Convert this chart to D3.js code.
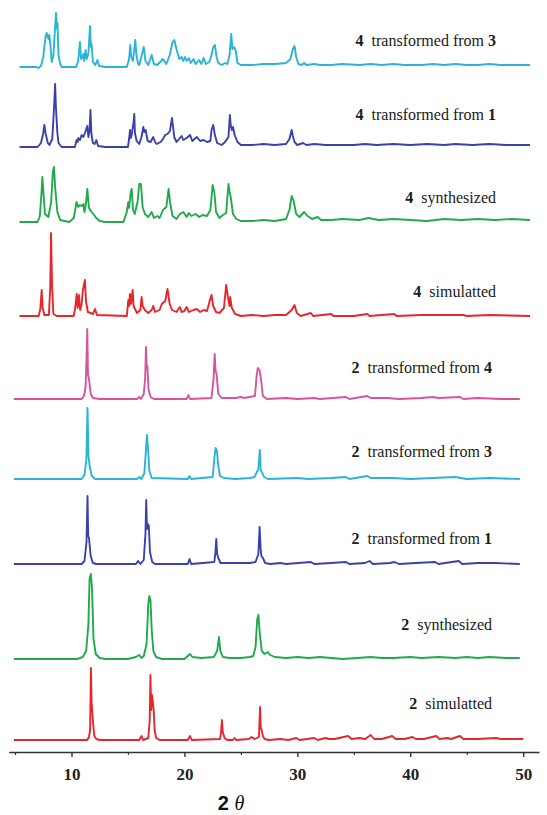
<!DOCTYPE html>
<html>
<head>
<meta charset="utf-8">
<script src="https://cdn.jsdelivr.net/npm/d3@7/dist/d3.min.js"></script>
<style>
  body { margin: 0; background: #fff; }
  svg { display: block; }
</style>
</head>
<body>
<svg id="chart" width="547" height="815"></svg>
<script>
// powder patterns, [2theta, intensity (a.u.)], top to bottom
var labels = [
  ["4", "transformed from", "3"],
  ["4", "transformed from", "1"],
  ["4", "synthesized", ""],
  ["4", "simulatted", ""],
  ["2", "transformed from", "4"],
  ["2", "transformed from", "3"],
  ["2", "transformed from", "1"],
  ["2", "synthesized", ""],
  ["2", "simulatted", ""]
];

// stacking offsets of each pattern (a.u.)
var offsets = [693, 613, 538, 444, 361, 281, 196, 101, 20];

var p4from3 = [[5.4,0],[6.9,0],[7.07,-1],[7.3,1],[7.5,10],[7.7,30],[7.8,34],[7.95,28],[8.04,32],[8.15,20],[8.25,5],[8.4,12],[8.55,40],[8.63,54],[8.72,38],[8.76,44],[8.85,12],[9.0,3],[9.13,0],[10.4,0],[10.6,6],[10.75,25],[10.85,8],[11.0,10],[11.05,13],[11.12,6],[11.25,17],[11.35,8],[11.5,14],[11.64,41],[11.72,20],[11.78,23],[11.9,5],[12.1,2],[12.3,7],[12.45,1],[13.0,0],[14.9,0],[15.1,8],[15.2,22],[15.3,10],[15.45,6],[15.65,27],[15.75,12],[15.9,3],[16.0,2],[16.4,20],[16.55,6],[16.8,2],[17.1,12],[17.3,3],[17.6,2],[18.1,8],[18.4,3],[18.7,12],[18.95,25],[19.1,27],[19.3,18],[19.55,8],[19.75,10],[19.9,6],[20.05,10],[20.2,6],[20.4,9],[20.55,4],[20.8,8],[21.0,3],[21.3,7],[21.5,3],[21.7,9],[21.9,3],[22.2,5],[22.4,12],[22.55,20],[22.7,22],[22.85,10],[23.0,4],[23.3,2],[23.6,4],[23.8,3],[24.0,12],[24.15,33],[24.25,18],[24.4,20],[24.55,16],[24.7,4],[25.0,2],[26.0,2],[27.0,3],[28.0,3],[29.0,4],[29.4,8],[29.6,18],[29.75,21],[29.9,10],[30.1,3],[30.4,2],[30.6,4],[30.8,2],[31.5,3],[32.0,2],[33.0,2],[34.0,3],[35.5,2],[36.5,3],[37.5,2],[38.5,3],[39.5,2],[41,2],[42,3],[43,2],[44,3],[45,2],[46,2],[47,3],[48,2],[49,2],[50.6,2]];

var p4from1 = [[5.4,0],[7.0,0],[7.3,4],[7.5,14],[7.6,22],[7.7,14],[7.9,4],[8.05,2],[8.3,8],[8.48,45],[8.55,63],[8.62,40],[8.68,28],[8.75,14],[8.85,4],[9.13,0],[10.3,0],[10.46,7],[10.55,5],[10.61,9],[10.75,7],[10.9,12],[11.05,10],[11.19,14],[11.4,21],[11.5,10],[11.6,16],[11.68,37],[11.74,18],[11.8,10],[11.9,4],[12.05,3],[12.2,7],[12.35,1],[13,0],[15.0,0],[15.1,8],[15.18,17],[15.25,9],[15.33,12],[15.5,25],[15.56,33],[15.62,14],[15.77,6],[16.0,3],[16.2,10],[16.36,20],[16.45,15],[16.57,17],[16.75,6],[17.0,5],[17.24,10],[17.4,5],[17.54,3],[17.9,5],[18.1,8],[18.3,12],[18.5,13],[18.72,16],[18.9,29],[19.0,20],[19.1,10],[19.3,5],[19.6,9],[19.75,11],[19.9,7],[20.2,9],[20.5,12],[20.7,6],[20.9,8],[21.1,10],[21.4,6],[21.7,7],[22.0,5],[22.3,6],[22.4,17],[22.55,22],[22.7,12],[22.9,4],[23.3,2],[23.6,5],[23.9,10],[24.03,32],[24.1,22],[24.2,17],[24.3,20],[24.45,12],[24.7,5],[25.0,2],[26,2],[27,3],[28,2],[29.0,3],[29.3,8],[29.5,17],[29.6,11],[29.75,5],[30.0,2],[30.5,4],[30.8,2],[31.5,3],[32.5,2],[33.5,2],[35,2],[36,3],[37,2],[38.5,3],[40,2],[41.5,3],[43,2],[44,3],[45.5,2],[47,3],[48.5,2],[50.6,2]];

var p4syn = [[5.4,0],[7.0,0],[7.2,6],[7.35,30],[7.42,45],[7.5,32],[7.65,8],[7.95,5],[8.2,20],[8.35,50],[8.45,55],[8.55,35],[8.75,10],[9.0,2],[9.8,0],[10.2,4],[10.45,20],[10.6,15],[10.75,17],[10.9,16],[11.05,18],[11.15,10],[11.3,20],[11.4,33],[11.55,14],[11.78,10],[12.0,7],[12.2,4],[12.5,1],[13,0],[14.6,0],[14.9,10],[15.03,20],[15.1,14],[15.25,30],[15.33,33],[15.45,12],[15.6,8],[15.85,20],[16.0,38],[16.15,38],[16.3,15],[16.5,8],[16.8,5],[17.1,10],[17.3,4],[17.6,6],[17.8,4],[18.1,12],[18.4,15],[18.6,33],[18.75,18],[18.95,6],[19.3,3],[19.6,8],[19.9,10],[20.2,5],[20.4,9],[20.6,6],[21.0,8],[21.3,5],[21.6,7],[22.0,6],[22.3,12],[22.5,37],[22.65,30],[22.8,10],[23.1,4],[23.4,7],[23.7,9],[23.9,38],[24.0,30],[24.1,25],[24.3,8],[24.6,3],[25.0,1],[26,1],[27,2],[28,1],[29.0,3],[29.3,12],[29.5,26],[29.65,22],[29.9,8],[30.2,5],[30.6,10],[30.9,6],[31.3,3],[31.8,5],[32.1,2],[33,2],[34,3],[35.5,2],[36.3,4],[37.2,2],[38.5,3],[40,2],[41.5,1],[43,3],[44.5,2],[46,3],[47.5,2],[49,3],[50.6,2]];

var p4sim = [[5.4,0],[7.1,0],[7.25,8],[7.36,26],[7.45,8],[7.6,1],[8.0,1],[8.12,30],[8.19,83],[8.28,30],[8.4,2],[8.7,0],[10.2,0],[10.35,10],[10.46,22],[10.55,8],[10.66,21],[10.77,6],[10.9,12],[10.99,24],[11.08,30],[11.19,36],[11.28,15],[11.45,4],[11.9,2],[12.08,7],[12.25,1],[14.9,0],[15.03,16],[15.1,10],[15.18,22],[15.27,12],[15.42,26],[15.5,10],[15.8,3],[16.1,6],[16.21,19],[16.3,10],[16.5,6],[16.8,3],[17.1,6],[17.24,10],[17.4,4],[17.8,6],[18.0,12],[18.3,15],[18.5,27],[18.7,12],[18.9,6],[19.3,4],[19.6,9],[19.75,4],[20.0,5],[20.2,9],[20.4,4],[20.8,6],[21.1,7],[21.4,4],[21.7,6],[22.0,5],[22.26,16],[22.4,21],[22.55,10],[22.8,4],[23.1,3],[23.5,8],[23.7,31],[23.85,19],[24.0,10],[24.05,19],[24.2,8],[24.5,2],[25,0],[26,1],[27,0],[28,1],[29.0,1],[29.5,6],[29.75,11],[29.95,3],[30.3,0],[31.2,3],[31.4,0],[33.0,2],[33.2,0],[35,0],[36.2,2],[36.4,0],[38.6,2],[38.8,0],[41,1],[44.7,1],[45,0],[47,1],[50.6,0]];

var p2from4 = [[4.9,0],[10.9,0],[11.1,3],[11.25,12],[11.33,40],[11.4,70],[11.46,24],[11.55,20],[11.7,5],[11.9,1],[12.5,0],[15.8,0],[16.0,2],[16.15,0],[16.4,5],[16.52,20],[16.6,52],[16.66,30],[16.72,33],[16.82,10],[17.0,2],[17.3,0],[20.2,0],[20.35,4],[20.5,0],[22.4,1],[22.58,20],[22.68,45],[22.76,28],[22.85,25],[23.0,5],[23.3,1],[24.5,1],[25.0,2],[25.3,1],[26.25,3],[26.4,24],[26.5,31],[26.65,29],[26.78,20],[26.95,3],[27.3,0],[29,1],[30,0],[31.5,1],[32,0],[34.3,2],[34.6,0],[36.2,3],[36.5,1],[38,1],[39,0],[41,1],[42,2],[42.5,1],[44.4,2],[44.7,0],[46,1],[48,0],[49.7,0]];

var p2from3 = [[4.9,0],[10.9,0],[11.15,4],[11.32,20],[11.42,71],[11.5,23],[11.62,12],[11.8,3],[12.1,0],[15.8,0],[16.0,2],[16.2,0],[16.45,6],[16.6,30],[16.68,44],[16.78,30],[16.9,8],[17.1,1],[20.3,0],[20.45,3],[20.6,0],[22.5,2],[22.65,20],[22.76,31],[22.88,28],[22.98,15],[23.15,3],[23.5,1],[24.5,0],[25.8,1],[26.2,2],[26.55,10],[26.68,29],[26.76,9],[26.86,7],[27.05,2],[27.4,0],[30,1],[31,0],[33,1],[34.3,2],[34.6,0],[36.2,3],[36.5,1],[38.5,1],[40,0],[42,1],[44,2],[45,0],[47,1],[49.7,0]];

var p2from1 = [[4.9,0],[10.9,0],[11.15,3],[11.33,22],[11.42,68],[11.48,28],[11.55,26],[11.7,8],[11.9,1],[12.2,0],[15.7,0],[15.9,3],[16.1,0],[16.4,4],[16.55,30],[16.62,64],[16.68,35],[16.75,40],[16.85,38],[16.95,12],[17.15,2],[17.4,0],[20.3,0],[20.45,5],[20.6,0],[22.65,2],[22.75,12],[22.82,25],[22.9,10],[23.0,6],[23.2,1],[24.2,1],[25.3,1],[25.8,1],[26.3,2],[26.55,10],[26.66,37],[26.75,15],[26.82,8],[26.95,6],[27.15,1],[27.6,0],[28.5,1],[29,0],[31.2,2],[31.5,0],[33,1],[34.3,2],[34.6,0],[36.0,1],[36.4,3],[36.7,0],[38.2,1],[38.6,2],[39,0],[40.5,1],[42.2,2],[42.5,0],[44.3,3],[44.6,0],[46,1],[47.5,1],[49.7,0]];

var p2syn = [[4.9,0],[9.0,0],[10.5,0],[11.0,2],[11.3,8],[11.5,35],[11.6,80],[11.72,85],[11.82,70],[11.95,20],[12.15,5],[12.5,1],[13,0],[15.0,0],[15.7,2],[16.0,4],[16.2,1],[16.4,3],[16.65,15],[16.8,55],[16.9,63],[17.0,58],[17.1,30],[17.25,8],[17.5,2],[18,0],[20.0,0],[20.3,3],[20.5,5],[20.7,2],[21.5,1],[22.6,2],[22.9,8],[23.06,22],[23.18,8],[23.4,2],[24,1],[25,1],[25.8,2],[26.1,3],[26.3,12],[26.45,40],[26.55,44],[26.68,25],[26.85,8],[27.1,5],[27.4,7],[27.6,4],[28,2],[29,1],[30,2],[31,1],[32,2],[33,1],[34,0],[35.3,1],[36.5,2],[37.5,1],[38.5,1],[40,2],[41,1],[42.5,2],[44,1],[45,2],[46,1],[47,2],[48.5,1],[49.7,1]];

var p2sim = [[4.9,0],[11.4,0],[11.55,3],[11.65,10],[11.72,72],[11.78,38],[11.84,28],[11.92,16],[12.02,4],[12.2,1],[12.5,0],[16.0,0],[16.2,4],[16.35,0],[16.8,2],[16.93,20],[16.99,65],[17.06,30],[17.13,45],[17.2,38],[17.28,30],[17.36,10],[17.5,2],[17.8,0],[20.3,0],[20.5,4],[20.65,0],[23.15,1],[23.25,8],[23.32,20],[23.4,8],[23.55,2],[23.8,0],[24.3,0],[24.45,2],[24.6,0],[25.7,1],[25.95,3],[26.2,1],[26.6,3],[26.7,33],[26.76,12],[26.84,10],[26.95,4],[27.1,1],[27.5,0],[28.5,1],[29.2,0],[29.9,2],[30.2,0],[31.5,2],[31.8,0],[32.5,2],[32.8,1],[33.3,1],[34.5,4],[34.8,1],[35.5,2],[36.0,1],[36.5,5],[36.8,1],[37.5,1],[38.4,4],[38.7,1],[39.5,1],[40.2,3],[40.5,1],[41.2,1],[42.3,4],[42.6,1],[43.3,2],[43.6,1],[44.4,4],[44.7,1],[46,1],[47.6,2],[48,1],[50.0,1]];

var patterns = [p4from3, p4from1, p4syn, p4sim, p2from4, p2from3, p2from1, p2syn, p2sim];

var xTicks = [10, 20, 30, 40, 50];
var xMinorTicks = [5, 15, 25, 35, 45];

var colors = ["#29b4d5", "#3b41ab", "#20aa4b", "#e6262b", "#d6539d", "#29b4d5", "#3b41ab", "#20aa4b", "#e6262b"];

var svg = d3.select("#chart");

var x = d3.scaleLinear().domain([4.44, 51.4]).range([8.7, 539]);
var y = d3.scaleLinear().domain([0, 760]).range([760, 0]);
var axisY = 752;

var line = d3.line()
    .x(function(d){ return x(d[0]); })
    .y(function(d){ return d[1]; });

svg.selectAll(".pattern")
    .data(patterns)
    .enter()
    .append("path")
    .attr("class", "pattern")
    .attr("fill", "none")
    .attr("stroke", function(d, i){ return colors[i]; })
    .attr("stroke-width", 1.9)
    .attr("stroke-linejoin", "round")
    .attr("d", function(d, i){
        var off = offsets[i];
        return line(d.map(function(p){ return [p[0], y(p[1] + off)]; }));
    });

// labels, right aligned above each pattern
var lab = svg.selectAll(".lab")
    .data(labels)
    .enter()
    .append("text")
    .attr("class", "lab")
    .attr("x", function(d, i){ return i < 4 ? 496 : 492; })
    .attr("y", function(d, i){ return y(offsets[i]) - [21, 27, 19, 19, 26, 22, 20, 29, 31][i]; })
    .attr("text-anchor", "end")
    .style("font-family", "'Liberation Serif', 'Times New Roman', serif")
    .style("font-size", "16px")
    .style("fill", "#1a1a1a")
    .style("white-space", "pre");

lab.append("tspan").style("font-weight", "bold").text(function(d){ return d[0]; });
lab.append("tspan").text(function(d){ return "  " + d[1]; });
lab.append("tspan").style("font-weight", "bold").text(function(d){ return d[2] ? " " + d[2] : ""; });

// x axis
var gx = svg.append("g")
    .attr("transform", "translate(0," + axisY + ")")
    .call(d3.axisBottom(x).tickValues(xTicks).tickSize(5).tickSizeOuter(0).tickPadding(11).tickFormat(d3.format("d")));

gx.select(".domain").attr("stroke", "#333").attr("stroke-width", 1.4);
gx.selectAll(".tick line").attr("stroke", "#333").attr("stroke-width", 1.4);
gx.selectAll(".tick text")
    .style("font-family", "'Liberation Serif', 'Times New Roman', serif")
    .style("font-size", "17px")
    .style("font-weight", "bold")
    .style("fill", "#222");

var gm = svg.append("g")
    .attr("transform", "translate(0," + axisY + ")")
    .call(d3.axisBottom(x).tickValues(xMinorTicks).tickSize(3).tickFormat(""));
gm.select(".domain").remove();
gm.selectAll(".tick line").attr("stroke", "#333").attr("stroke-width", 1.2);

// axis title
var title = svg.append("text")
    .attr("x", 231)
    .attr("y", 810)
    .attr("text-anchor", "middle")
    .style("font-family", "'Liberation Sans', Arial, sans-serif")
    .style("font-size", "20px")
    .style("font-weight", "bold")
    .style("fill", "#111");
title.append("tspan").text("2 ");
title.append("tspan").style("font-style", "italic").style("font-weight", "normal").style("font-family", "'Liberation Serif', serif").text("θ");
</script>
</body>
</html>
